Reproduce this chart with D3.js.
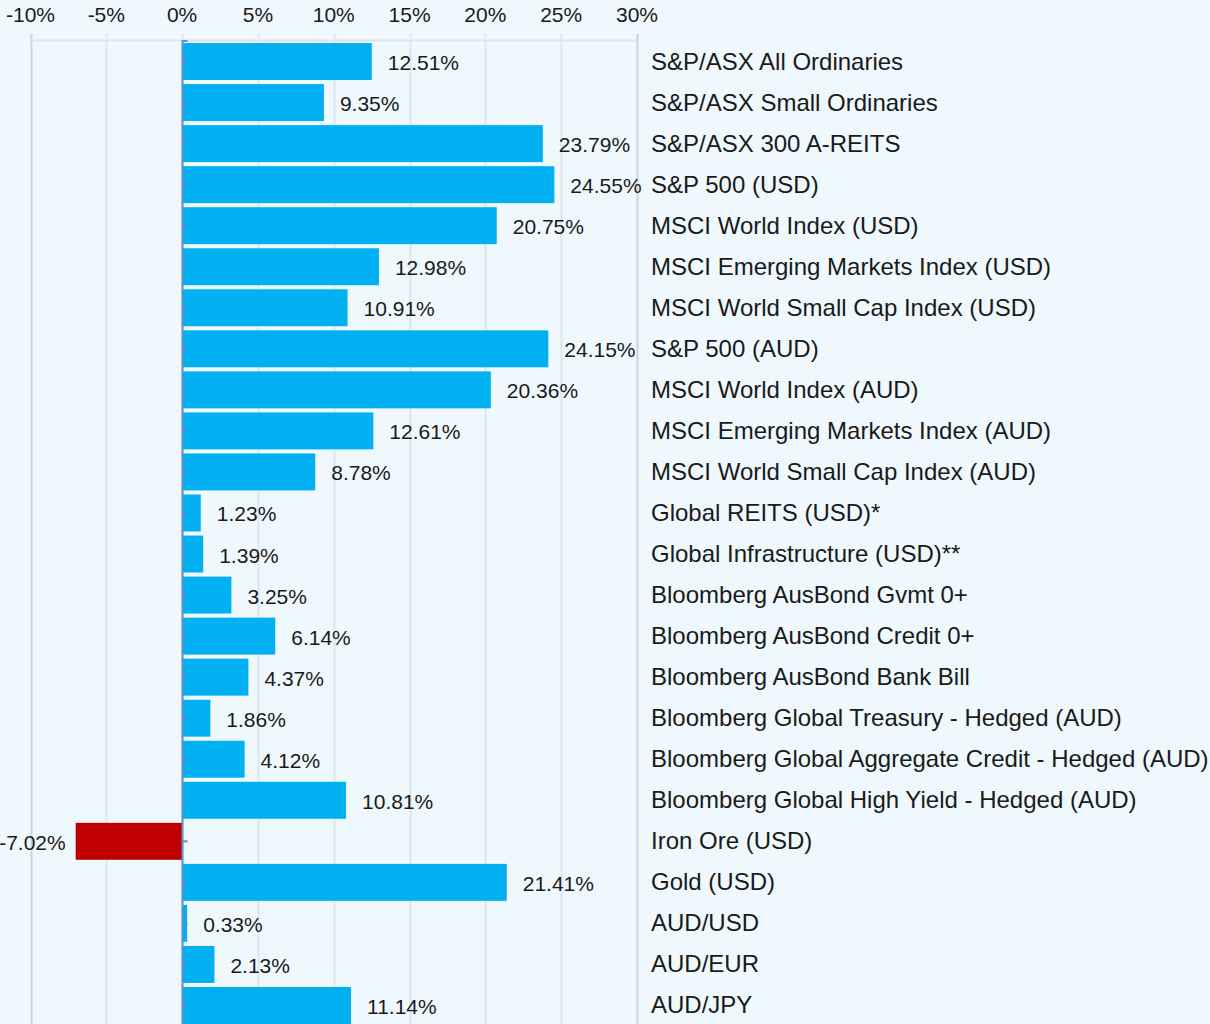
<!DOCTYPE html>
<html>
<head>
<meta charset="utf-8">
<script src="https://cdn.jsdelivr.net/npm/d3@7"></script>
<style>
  html, body { margin: 0; padding: 0; background: #eef8fd; }
  svg { display: block; font-family: "Liberation Sans", Arial, sans-serif; }
</style>
</head>
<body>
<div id="chart"></div>
<script>
const categories = [
  "S&P/ASX All Ordinaries", "S&P/ASX Small Ordinaries", "S&P/ASX 300 A-REITS",
  "S&P 500 (USD)", "MSCI World Index (USD)", "MSCI Emerging Markets Index (USD)",
  "MSCI World Small Cap Index (USD)", "S&P 500 (AUD)", "MSCI World Index (AUD)",
  "MSCI Emerging Markets Index (AUD)", "MSCI World Small Cap Index (AUD)",
  "Global REITS (USD)*", "Global Infrastructure (USD)**", "Bloomberg AusBond Gvmt 0+",
  "Bloomberg AusBond Credit 0+", "Bloomberg AusBond Bank Bill",
  "Bloomberg Global Treasury - Hedged (AUD)", "Bloomberg Global Aggregate Credit - Hedged (AUD)",
  "Bloomberg Global High Yield - Hedged (AUD)", "Iron Ore (USD)", "Gold (USD)",
  "AUD/USD", "AUD/EUR", "AUD/JPY"
];
const values = [
  12.51, 9.35, 23.79, 24.55, 20.75, 12.98, 10.91, 24.15, 20.36, 12.61, 8.78,
  1.23, 1.39, 3.25, 6.14, 4.37, 1.86, 4.12, 10.81, -7.02, 21.41, 0.33, 2.13, 11.14
];
const xTicks = [-10, -5, 0, 5, 10, 15, 20, 25, 30];

const width = 1210, height = 1024;
const rows = categories.map((c, i) => ({ name: c, value: values[i] }));

const x = d3.scaleLinear().domain([-10, 30]).range([30.5, 637]);
const y = d3.scaleBand().domain(categories).range([41, 1026]).paddingInner(0.1).paddingOuter(0.05);

const svg = d3.select('#chart')
  .append('svg')
  .attr('width', width)
  .attr('height', height);

svg.append('rect').attr('width', width).attr('height', height).attr('fill', '#eef8fd');

// gridlines
svg.append('g')
  .selectAll('line')
  .data(xTicks)
  .enter()
  .append('line')
  .attr('x1', d => Math.round(x(d)) + 0.5)
  .attr('x2', d => Math.round(x(d)) + 0.5)
  .attr('y1', 34)
  .attr('y2', height)
  .attr('stroke', d => (d === -10 || d === 30) ? '#c9d5de' : '#dce7ef')
  .attr('stroke-width', 2);

svg.append('line')
  .attr('x1', x(-10)).attr('x2', x(30))
  .attr('y1', 40.5).attr('y2', 40.5)
  .attr('stroke', '#dce7ef').attr('stroke-width', 2);

// tick labels on top
svg.append('g')
  .selectAll('text')
  .data(xTicks)
  .enter()
  .append('text')
  .attr('x', d => x(d))
  .attr('y', 22)
  .attr('text-anchor', 'middle')
  .attr('font-size', 21)
  .attr('fill', '#1a1a1a')
  .text(d => d + '%');

// bars
svg.append('g')
  .selectAll('rect')
  .data(rows)
  .enter()
  .append('rect')
  .attr('x', d => x(Math.min(0, d.value)))
  .attr('y', d => y(d.name))
  .attr('width', d => Math.abs(x(d.value) - x(0)))
  .attr('height', y.bandwidth())
  .attr('fill', d => d.value < 0 ? '#c00000' : '#00b0f0');

// zero axis with small ticks
const zx = Math.round(x(0)) + 0.5;
svg.append('line')
  .attr('x1', zx).attr('x2', zx)
  .attr('y1', 40).attr('y2', height)
  .attr('stroke', '#5b8fd0').attr('stroke-width', 2);
svg.append('g')
  .selectAll('line')
  .data(categories.concat(['__top']))
  .enter()
  .append('line')
  .attr('x1', zx)
  .attr('x2', zx + 5)
  .attr('y1', d => d === '__top' ? 41 : y(d) + y.bandwidth() / 2)
  .attr('y2', d => d === '__top' ? 41 : y(d) + y.bandwidth() / 2)
  .attr('stroke', '#5b8fd0')
  .attr('stroke-width', 2);

// value labels
svg.append('g')
  .selectAll('text')
  .data(rows)
  .enter()
  .append('text')
  .attr('x', d => d.value < 0 ? x(d.value) - 10 : x(d.value) + 16)
  .attr('y', d => y(d.name) + y.bandwidth() / 2 + 8.5)
  .attr('text-anchor', d => d.value < 0 ? 'end' : 'start')
  .attr('font-size', 21)
  .attr('fill', '#1a1a1a')
  .text(d => d.value.toFixed(2) + '%');

// category labels
svg.append('g')
  .selectAll('text')
  .data(rows)
  .enter()
  .append('text')
  .attr('x', 651)
  .attr('y', d => y(d.name) + y.bandwidth() / 2 + 8)
  .attr('font-size', 24)
  .attr('fill', '#1a1a1a')
  .text(d => d.name);
</script>
</body>
</html>
